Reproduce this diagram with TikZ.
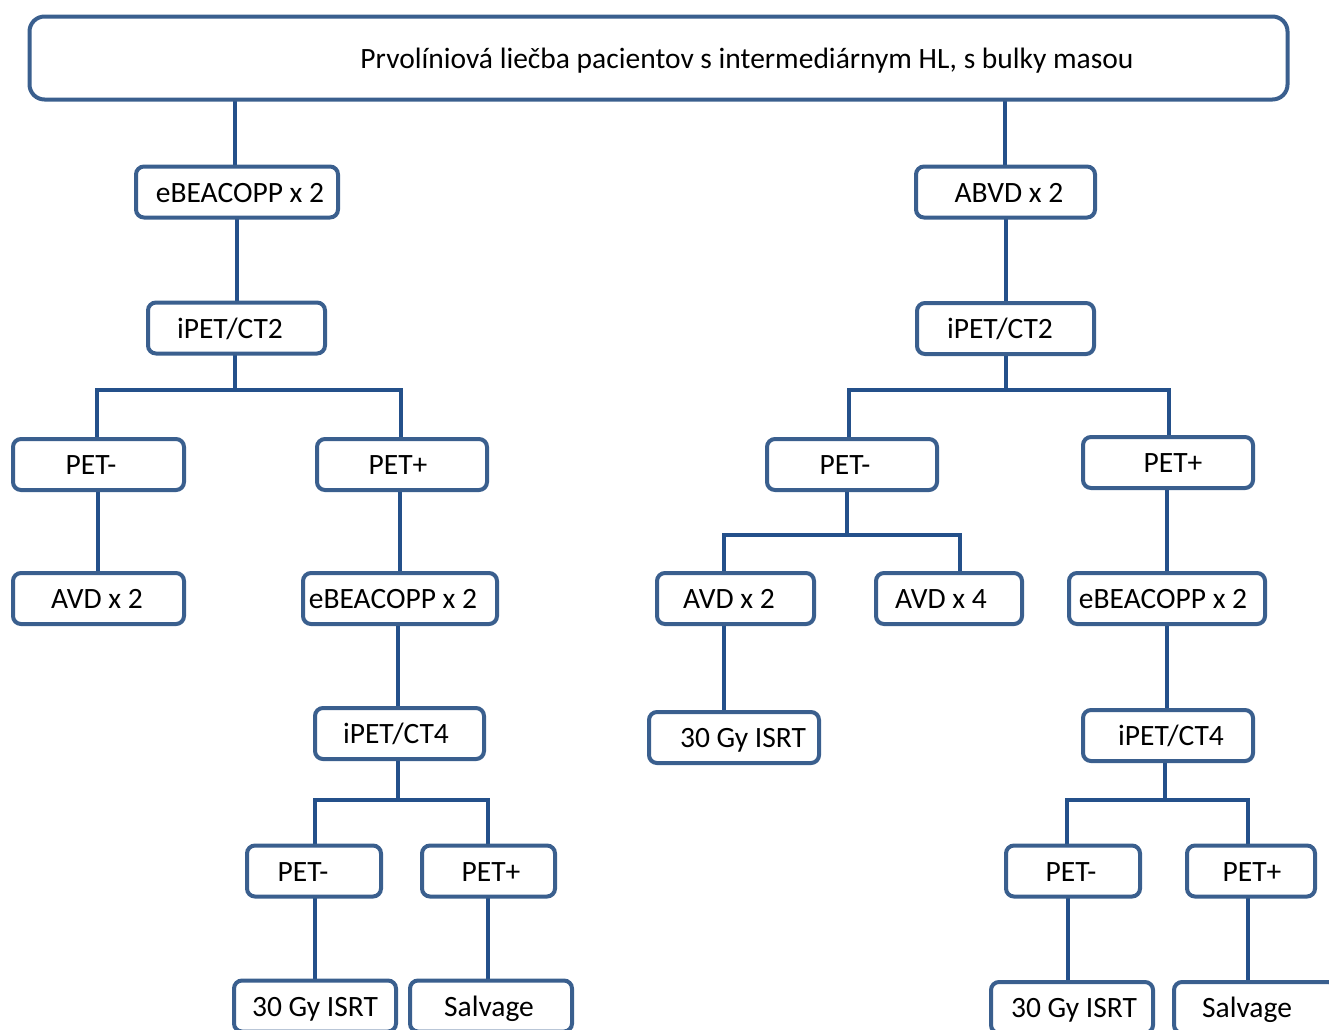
\documentclass[tikz,border=0pt]{standalone}
\usepackage{fontspec}
\setmainfont{Carlito}
\usetikzlibrary{calc,backgrounds}
\definecolor{boxc}{HTML}{3A5F8E}
\definecolor{linec}{HTML}{24508A}
\tikzset{
  box/.style={draw=boxc, line width=4pt, rounded corners=8pt, fill=white,
    inner sep=0pt, text height=21pt, text depth=1pt,
    font=\fontsize{29.5}{35}\selectfont},
  conn/.style={draw=linec, line width=4.2pt},
}
% #1 name, #2 x, #3 y, #4 width, #5 height, #6 text shift (2x), #7 text
\newcommand{\bx}[7]{\node[box, minimum width=#4, minimum height=#5] (#1) at (#2,#3) {\hspace*{#6}#7};}
\begin{document}
\begin{tikzpicture}[x=1pt,y=-1pt]
\useasboundingbox (0,0) rectangle (1329,1029);
\clip (0,0) rectangle (1329,1029);
\coordinate (ya) at (0,390);
\coordinate (yb) at (0,535);
\coordinate (yc) at (0,800);
% boxes
\node[box, rounded corners=15pt, minimum width=1258pt, minimum height=83pt] (top) at (658.5,58) {};
\node[font=\fontsize{29.5}{35}\selectfont, inner sep=0pt, text height=21pt, text depth=1pt] (toptext) at (747,58) {Prvolíniová liečba pacientov s intermediárnym HL, s bulky masou};
% left branch
\bx{L1}{237}{192}{202pt}{51pt}{6pt}{eBEACOPP x 2}
\bx{L2}{236.5}{328}{177pt}{51pt}{-13pt}{iPET/CT2}
\bx{L3a}{98.5}{464.5}{171pt}{51pt}{-15pt}{PET-}
\bx{L3b}{402}{464.5}{170pt}{51pt}{-8pt}{PET+}
\bx{L4a}{98.5}{598.5}{171pt}{51pt}{-3pt}{AVD x 2}
\bx{L4b}{400}{598.5}{194pt}{51pt}{-14pt}{eBEACOPP x 2}
\bx{L5}{399.5}{733.5}{169pt}{51pt}{-7pt}{iPET/CT4}
\bx{L6a}{314}{871}{134pt}{51pt}{-22pt}{PET-}
\bx{L6b}{488.5}{871}{133pt}{51pt}{5pt}{PET+}
\bx{L7a}{315}{1006}{162pt}{51pt}{0pt}{30 Gy ISRT}
\bx{L7b}{491}{1006}{162pt}{51pt}{-4pt}{Salvage}
% right branch
\bx{R1}{1005.5}{192}{179pt}{51pt}{7pt}{ABVD x 2}
\bx{R2}{1005.5}{328.5}{177pt}{51pt}{-11pt}{iPET/CT2}
\bx{R3a}{852}{464.5}{170pt}{51pt}{-14pt}{PET-}
\bx{R3b}{1168}{462.5}{170pt}{51pt}{10pt}{PET+}
\bx{R4a}{735.5}{598.5}{157pt}{51pt}{-13pt}{AVD x 2}
\bx{R4b}{949}{598.5}{146pt}{51pt}{-16pt}{AVD x 4}
\bx{R5a}{734}{737.5}{170pt}{51pt}{18pt}{30 Gy ISRT}
\bx{R4c}{1167}{598.5}{196pt}{51pt}{-8pt}{eBEACOPP x 2}
\bx{R5c}{1168}{735.5}{170pt}{51pt}{6pt}{iPET/CT4}
\bx{R6a}{1073}{871}{134pt}{51pt}{-4pt}{PET-}
\bx{R6b}{1251}{871}{128pt}{51pt}{2pt}{PET+}
\bx{R7a}{1072}{1007.5}{162pt}{51pt}{4pt}{30 Gy ISRT}
\bx{R7b}{1255}{1007.5}{162pt}{51pt}{-16pt}{Salvage}
% connector x positions
\coordinate (xa) at (235,0);
\coordinate (xb) at (1005,0);
\coordinate (xc) at (237,0);
\coordinate (xd) at (1006,0);
\coordinate (xe) at (97,0);
\coordinate (xf) at (401,0);
\coordinate (xg) at (849,0);
\coordinate (xh) at (1169,0);
\coordinate (xi) at (98,0);
\coordinate (xj) at (400,0);
\coordinate (xk) at (398,0);
\coordinate (xl) at (315,0);
\coordinate (xm) at (488,0);
\coordinate (xn) at (847,0);
\coordinate (xo) at (724,0);
\coordinate (xp) at (960,0);
\coordinate (xq) at (1167,0);
\coordinate (xr) at (1165,0);
\coordinate (xs) at (1067,0);
\coordinate (xt) at (1248,0);
\coordinate (xu) at (1068,0);
\begin{pgfonlayer}{background}
\path[conn] (xa |- top.center) -- (xa |- L1.center);
\path[conn] (xc |- L1.center) -- (xc |- L2.center);
\path[conn] (xa |- L2.center) -- (xa |- ya);
\path[conn] (xe |- L3a.center) |- (xa |- ya) -| (xf |- L3b.center);
\path[conn] (xi |- L3a.center) -- (xi |- L4a.center);
\path[conn] (xj |- L3b.center) -- (xj |- L4b.center);
\path[conn] (xk |- L4b.center) -- (xk |- L5.center);
\path[conn] (xk |- L5.center) -- (xk |- yc);
\path[conn] (xl |- L6a.center) |- (xk |- yc) -| (xm |- L6b.center);
\path[conn] (xl |- L6a.center) -- (xl |- L7a.center);
\path[conn] (xm |- L6b.center) -- (xm |- L7b.center);
\path[conn] (xb |- top.center) -- (xb |- R1.center);
\path[conn] (xd |- R1.center) -- (xd |- R2.center);
\path[conn] (xd |- R2.center) -- (xd |- ya);
\path[conn] (xg |- R3a.center) |- (xd |- ya) -| (xh |- R3b.center);
\path[conn] (xn |- R3a.center) -- (xn |- yb);
\path[conn] (xo |- R4a.center) |- (xn |- yb) -| (xp |- R4b.center);
\path[conn] (xo |- R4a.center) -- (xo |- R5a.center);
\path[conn] (xq |- R3b.center) -- (xq |- R4c.center);
\path[conn] (xq |- R4c.center) -- (xq |- R5c.center);
\path[conn] (xr |- R5c.center) -- (xr |- yc);
\path[conn] (xs |- R6a.center) |- (xr |- yc) -| (xt |- R6b.center);
\path[conn] (xu |- R6a.center) -- (xu |- R7a.center);
\path[conn] (xt |- R6b.center) -- (xt |- R7b.center);
\end{pgfonlayer}
\end{tikzpicture}
\end{document}
